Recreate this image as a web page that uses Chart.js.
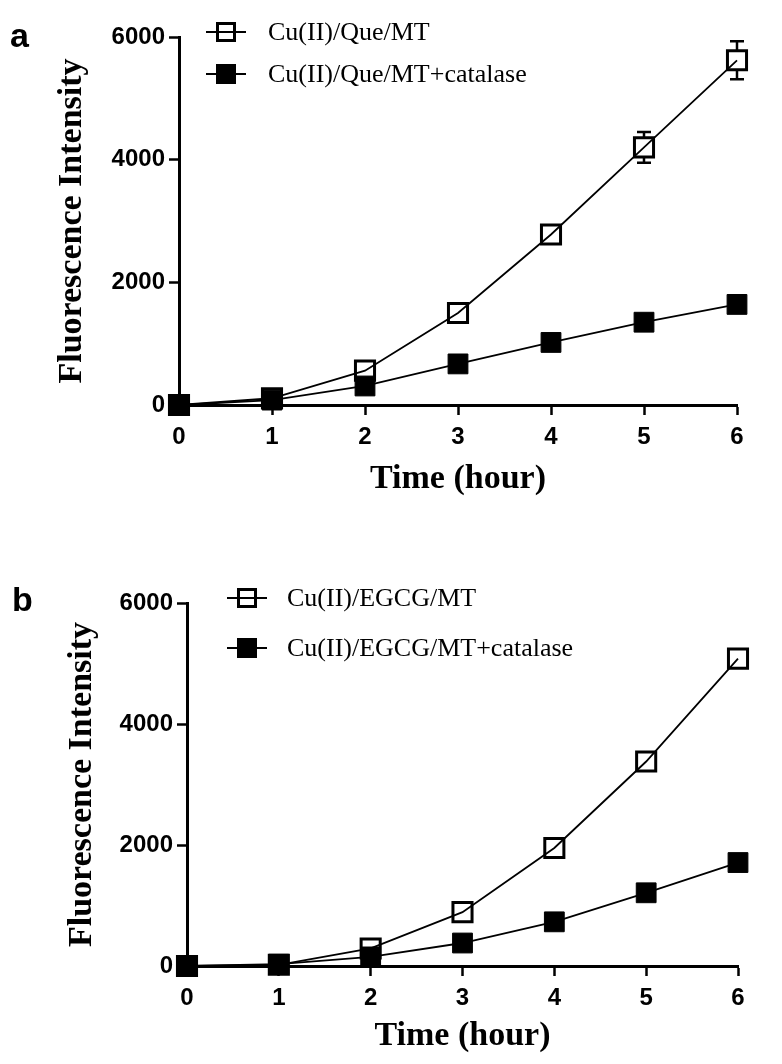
<!DOCTYPE html>
<html>
<head>
<meta charset="utf-8">
<script src="https://cdn.jsdelivr.net/npm/chart.js@4.4.1/dist/chart.umd.min.js"></script>
<style>
  html, body { margin: 0; padding: 0; background: #fff; }
  #wrap { position: relative; width: 782px; height: 1064px; }
  .painel { position: absolute; left: 0; width: 782px; }
  #painelA { top: 0; height: 520px; }
  #painelB { top: 540px; height: 524px; }
</style>
</head>
<body>
<div id="wrap">
  <div class="painel" id="painelA"><canvas id="graficoA"></canvas></div>
  <div class="painel" id="painelB"><canvas id="graficoB"></canvas></div>
</div>
<script>
// dados
const horas  = [0, 1, 2, 3, 4, 5, 6];
const yTicks = [0, 2000, 4000, 6000];

const queMT       = [0, 110, 560, 1500, 2780, 4200, 5620];
const queMTErro   = [0, 0, 60, 80, 130, 250, 310];
const queCat      = [0, 80, 310, 670, 1020, 1350, 1640];
const queCatErro  = [0, 0, 0, 0, 0, 0, 0];

const egcgMT      = [0, 20, 290, 890, 1950, 3380, 5080];
const egcgMTErro  = [0, 0, 0, 0, 40, 60, 100];
const egcgCat     = [0, 30, 150, 380, 730, 1210, 1710];
const egcgCatErro = [0, 0, 0, 0, 0, 0, 0];

const SERIF = '"Liberation Serif", "Times New Roman", serif';
const SANS  = '"Liberation Sans", Arial, sans-serif';

const pontos = (vals) => horas.map((h, i) => ({ x: h, y: vals[i] }));

// barras de erro (só a parte fora do quadrado)
const barrasErro = {
  id: "barrasErro",
  afterDatasetsDraw(chart) {
    const { ctx, scales } = chart;
    const meio = 10;
    ctx.save();
    ctx.strokeStyle = "#000";
    ctx.lineWidth = 2.5;
    chart.data.datasets.forEach(ds => {
      if (!ds.erro) return;
      ds.data.forEach((p, i) => {
        const e = ds.erro[i];
        if (!e) return;
        const x = scales.x.getPixelForValue(p.x);
        const yc = scales.y.getPixelForValue(p.y);
        const yTop = scales.y.getPixelForValue(p.y + e);
        const yBot = scales.y.getPixelForValue(p.y - e);
        ctx.beginPath();
        if (yTop < yc - meio) { ctx.moveTo(x, yc - meio); ctx.lineTo(x, yTop); ctx.moveTo(x - 7, yTop); ctx.lineTo(x + 7, yTop); }
        if (yBot > yc + meio) { ctx.moveTo(x, yc + meio); ctx.lineTo(x, yBot); ctx.moveTo(x - 7, yBot); ctx.lineTo(x + 7, yBot); }
        ctx.stroke();
      });
    });
    ctx.restore();
  }
};

// legenda e letra do painel
const legendaCustom = {
  id: "legendaCustom",
  afterDraw(chart, args, opts) {
    const { ctx } = chart;
    ctx.save();
    ctx.fillStyle = "#000";
    ctx.font = "bold 34px " + SANS;
    ctx.textBaseline = "middle";
    ctx.textAlign = "left";
    ctx.fillText(opts.letra, opts.letraX, opts.letraY);

    opts.itens.forEach((item, i) => {
      const y = opts.y0 + i * opts.dy;
      ctx.strokeStyle = "#000";
      ctx.lineWidth = 2;
      ctx.beginPath();
      ctx.moveTo(opts.x - 20, y);
      ctx.lineTo(opts.x + 20, y);
      ctx.stroke();
      if (item.cheio) {
        ctx.fillRect(opts.x - 10, y - 10, 20, 20);
      } else {
        ctx.lineWidth = 3;
        ctx.strokeRect(opts.x - 8.5, y - 8.5, 17, 17);
      }
      ctx.font = "26px " + SERIF;
      ctx.fillText(item.texto, opts.textoX, y + 1);
    });
    ctx.restore();
  }
};

function criarGrafico(id, cfg) {
  const ctx = document.getElementById(id).getContext("2d");
  return new Chart(ctx, {
    type: "line",
    data: {
      datasets: [
        {
          label: cfg.nomes[0],
          data: pontos(cfg.aberto),
          erro: cfg.abertoErro,
          borderColor: "#000",
          borderWidth: 1.8,
          pointStyle: "rect",
          pointRadius: 13.5,
          pointBorderWidth: 3,
          pointBorderColor: "#000",
          pointBackgroundColor: "rgba(0,0,0,0)",
          fill: false,
          tension: 0,
          clip: false,
          order: 1
        },
        {
          label: cfg.nomes[1],
          data: pontos(cfg.cheio),
          erro: cfg.cheioErro,
          borderColor: "#000",
          borderWidth: 1.8,
          pointStyle: "rect",
          pointRadius: 14,
          pointBorderWidth: 1,
          pointBorderColor: "#000",
          pointBackgroundColor: "#000",
          fill: false,
          tension: 0,
          clip: false,
          order: 0
        }
      ]
    },
    options: {
      responsive: true,
      maintainAspectRatio: false,
      animation: false,
      devicePixelRatio: 1,
      layout: { padding: { left: 0, right: cfg.padDir, top: cfg.padTopo, bottom: 0 } },
      plugins: {
        legend: { display: false },
        tooltip: { enabled: false },
        legendaCustom: cfg.legenda
      },
      scales: {
        x: {
          type: "linear",
          min: 0,
          max: 6,
          afterFit: s => { s.height = cfg.alturaX; },
          border: { display: true, color: "#000", width: 3 },
          grid: { display: true, drawOnChartArea: false, drawTicks: true, tickLength: 10, tickWidth: 2.5, tickColor: "#000" },
          ticks: {
            stepSize: 1,
            color: "#000",
            padding: 8,
            font: { family: SANS, size: 24, weight: "bold" }
          },
          title: {
            display: true,
            text: "Time (hour)",
            color: "#000",
            padding: { top: 0, bottom: cfg.tituloXPad },
            font: { family: SERIF, size: 34, weight: "bold" }
          }
        },
        y: {
          min: 0,
          max: 6000,
          afterFit: s => { s.width = cfg.larguraY; },
          afterBuildTicks: s => { s.ticks = yTicks.map(v => ({ value: v })); },
          border: { display: true, color: "#000", width: 3 },
          grid: { display: true, drawOnChartArea: false, drawTicks: true, tickLength: 10, tickWidth: 2.5, tickColor: "#000" },
          ticks: {
            color: "#000",
            padding: 4,
            font: { family: SANS, size: 24, weight: "bold" },
            callback: v => String(v)
          },
          title: {
            display: true,
            text: "Fluorescence Intensity",
            color: "#000",
            padding: { top: cfg.tituloYPad, bottom: 0 },
            font: { family: SERIF, size: 34, weight: "bold" }
          }
        }
      }
    },
    plugins: [barrasErro, legendaCustom]
  });
}

criarGrafico("graficoA", {
  nomes: ["Cu(II)/Que/MT", "Cu(II)/Que/MT+catalase"],
  aberto: queMT, abertoErro: queMTErro,
  cheio: queCat, cheioErro: queCatErro,
  padDir: 45, padTopo: 37,
  larguraY: 179, alturaX: 115,
  tituloXPad: 20, tituloYPad: 52,
  legenda: {
    letra: "a", letraX: 10, letraY: 38,
    x: 226, y0: 32, dy: 42, textoX: 268,
    itens: [{ texto: "Cu(II)/Que/MT", cheio: false }, { texto: "Cu(II)/Que/MT+catalase", cheio: true }]
  }
});

criarGrafico("graficoB", {
  nomes: ["Cu(II)/EGCG/MT", "Cu(II)/EGCG/MT+catalase"],
  aberto: egcgMT, abertoErro: egcgMTErro,
  cheio: egcgCat, cheioErro: egcgCatErro,
  padDir: 44, padTopo: 63,
  larguraY: 187, alturaX: 98,
  tituloXPad: 7, tituloYPad: 62,
  legenda: {
    letra: "b", letraX: 12, letraY: 62,
    x: 247, y0: 58, dy: 50, textoX: 287,
    itens: [{ texto: "Cu(II)/EGCG/MT", cheio: false }, { texto: "Cu(II)/EGCG/MT+catalase", cheio: true }]
  }
});
</script>
</body>
</html>
